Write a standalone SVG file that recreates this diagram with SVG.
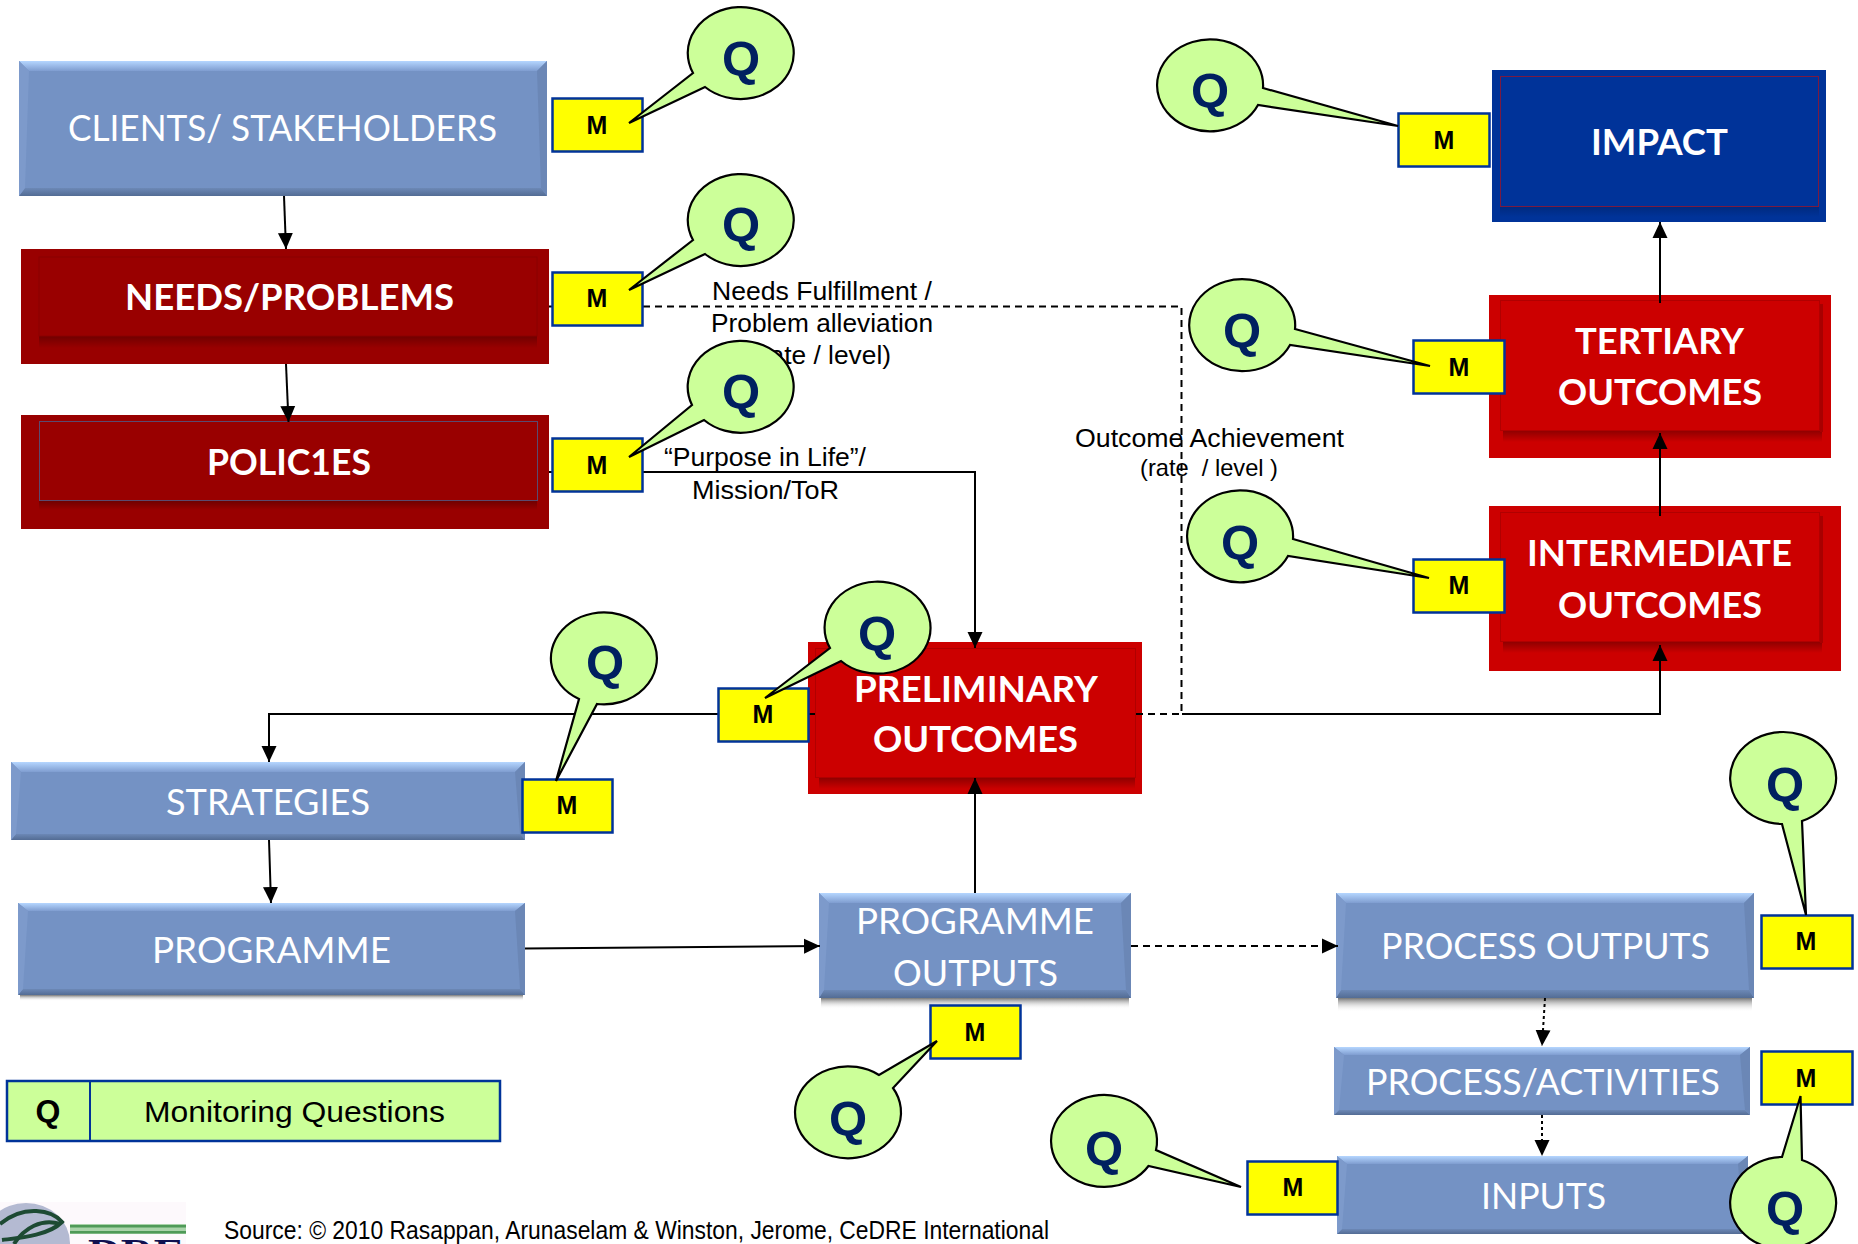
<svg xmlns="http://www.w3.org/2000/svg" width="1858" height="1244" viewBox="0 0 1858 1244">
<style>
text{font-family:"Liberation Sans",Arial,sans-serif}
.lb{font-family:Lato,"Open Sans",sans-serif;font-size:37px;fill:#fff}
.lbb{font-family:Lato,"Open Sans",sans-serif;font-size:37px;fill:#fff;font-weight:700}
.t{font-size:25px;fill:#000}
.blue{fill:#7492c4}
.top{fill:url(#bevTop)}
.bot{fill:url(#bevBot)}
.lt{fill:#7d9acb}
.rt{fill:#6b87b6}
.sh{fill:url(#shadow)}
.m rect{fill:#ff0;stroke:#003399;stroke-width:2.5}
.m text{font-size:25px;font-weight:700;text-anchor:middle;fill:#000}
.q path{fill:#ccff99;stroke:#000;stroke-width:2.2;stroke-linejoin:miter}
.q text{font-size:49px;font-weight:700;text-anchor:middle;fill:#002060}
.c{fill:none;stroke:#000;stroke-width:2}
.dash{stroke-dasharray:7 5}
.dot{stroke-dasharray:3 3}
.a{marker-end:url(#arr)}
</style>
<defs>
<marker id="arr" markerUnits="userSpaceOnUse" markerWidth="17" markerHeight="17" refX="16" refY="8.500" orient="auto"><path d="M0 1L16 8.500L0 16Z" fill="#000"/></marker>
<linearGradient id="bevTop" x1="0" y1="0" x2="0" y2="1"><stop offset="0" stop-color="#b5d6ff"/><stop offset="1" stop-color="#7f9dd0"/></linearGradient>
<linearGradient id="bevBot" x1="0" y1="0" x2="0" y2="1"><stop offset="0" stop-color="#6c88b6"/><stop offset="1" stop-color="#536c94"/></linearGradient>
<linearGradient id="shadow" x1="0" y1="0" x2="0" y2="1"><stop offset="0" stop-color="#777"/><stop offset="1" stop-color="#fff" stop-opacity="0"/></linearGradient>
<linearGradient id="sdR" x1="0" y1="0" x2="0" y2="1"><stop offset="0" stop-color="#900000"/><stop offset="1" stop-color="#cc0000"/></linearGradient>
<linearGradient id="sdD" x1="0" y1="0" x2="0" y2="1"><stop offset="0" stop-color="#700000"/><stop offset="1" stop-color="#990000"/></linearGradient>
<linearGradient id="sdB" x1="0" y1="0" x2="0" y2="1"><stop offset="0" stop-color="#002a7f"/><stop offset="1" stop-color="#003399"/></linearGradient>
</defs>
<rect width="1858" height="1244" fill="#fff"/>

<g id="node-clients">
<rect class="blue" x="19" y="61" width="528" height="135"/>
<polygon class="top" points="19,61 547,61 537,71 29,71"/>
<polygon class="bot" points="19,196 547,196 541,188 25,188"/>
<polygon class="lt" points="19,61 29,71 25,188 19,196"/>
<polygon class="rt" points="547,61 537,71 541,188 547,196"/>
<text class="lb" x="68" y="141" textLength="429" lengthAdjust="spacingAndGlyphs">CLIENTS/ STAKEHOLDERS</text>
</g>
<g id="node-needs">
<rect x="21" y="249" width="528" height="115" fill="#990000"/>
<rect x="39" y="336" width="498" height="12" fill="url(#sdD)"/>
<rect x="39" y="257" width="498" height="79" fill="#990000" stroke="#8a0000" stroke-width="1"/>
<text class="lbb" x="125" y="310" textLength="329" lengthAdjust="spacingAndGlyphs">NEEDS/PROBLEMS</text>
</g>
<g id="node-policies">
<rect x="21" y="415" width="528" height="114" fill="#990000"/>
<rect x="39" y="501" width="498" height="9" fill="url(#sdD)"/>
<rect x="39.500" y="421.500" width="498" height="79" fill="#990000" stroke="#5a4a70" stroke-width="1"/>
<text class="lbb" x="207" y="475" textLength="164" lengthAdjust="spacingAndGlyphs">POLIC1ES</text>
</g>
<g id="node-impact">
<rect x="1492" y="70" width="334" height="152" fill="#003399"/>
<rect x="1500" y="207" width="319" height="10" fill="url(#sdB)"/>
<rect x="1500.500" y="76.500" width="318" height="130" fill="#003399" stroke="#7a1a40" stroke-width="1"/>
<text class="lbb" x="1591" y="155" textLength="137" lengthAdjust="spacingAndGlyphs">IMPACT</text>
</g>
<g id="node-tertiary">
<rect x="1489" y="295" width="342" height="163" fill="#cc0000"/>
<rect x="1503" y="431" width="319" height="11" fill="url(#sdR)"/>
<rect x="1820" y="304" width="3" height="128" fill="#a80000"/>
<rect x="1500.500" y="300.500" width="319" height="130" fill="#cc0000" stroke="#b00000" stroke-width="1"/>
<text class="lbb" x="1575" y="354" textLength="169" lengthAdjust="spacingAndGlyphs">TERTIARY</text>
<text class="lbb" x="1558" y="405" textLength="204" lengthAdjust="spacingAndGlyphs">OUTCOMES</text>
</g>
<g id="node-intermediate">
<rect x="1489" y="506" width="352" height="165" fill="#cc0000"/>
<rect x="1503" y="642" width="319" height="11" fill="url(#sdR)"/>
<rect x="1820" y="516" width="3" height="127" fill="#a80000"/>
<rect x="1500.500" y="512.500" width="319" height="129" fill="#cc0000" stroke="#b00000" stroke-width="1"/>
<text class="lbb" x="1527" y="566" textLength="265" lengthAdjust="spacingAndGlyphs">INTERMEDIATE</text>
<text class="lbb" x="1558" y="618" textLength="204" lengthAdjust="spacingAndGlyphs">OUTCOMES</text>
</g>
<g id="node-preliminary">
<rect x="808" y="642" width="334" height="152" fill="#cc0000"/>
<rect x="819" y="778" width="316" height="11" fill="url(#sdR)"/>
<rect x="815.500" y="648.500" width="320" height="129" fill="#cc0000" stroke="#b00000" stroke-width="1"/>
<text class="lbb" x="854" y="702" textLength="244" lengthAdjust="spacingAndGlyphs">PRELIMINARY</text>
<text class="lbb" x="873" y="752" textLength="205" lengthAdjust="spacingAndGlyphs">OUTCOMES</text>
</g>
<g id="node-strategies">
<rect class="blue" x="11" y="762" width="514" height="78"/>
<polygon class="top" points="11,762 525,762 515,772 21,772"/>
<polygon class="bot" points="11,840 525,840 520,834 16,834"/>
<polygon class="lt" points="11,762 21,772 16,834 11,840"/>
<polygon class="rt" points="525,762 515,772 520,834 525,840"/>
<text class="lb" x="166" y="815" textLength="204" lengthAdjust="spacingAndGlyphs">STRATEGIES</text>
</g>
<g id="node-programme">
<rect class="sh" x="20" y="995" width="503" height="6"/>
<rect class="blue" x="18" y="903" width="507" height="92"/>
<polygon class="top" points="18,903 525,903 515,911 28,911"/>
<polygon class="bot" points="18,995 525,995 520,989 23,989"/>
<polygon class="lt" points="18,903 28,911 23,989 18,995"/>
<polygon class="rt" points="525,903 515,911 520,989 525,995"/>
<text class="lb" x="152" y="963" textLength="239" lengthAdjust="spacingAndGlyphs">PROGRAMME</text>
</g>
<g id="node-programme-outputs">
<rect class="sh" x="821" y="998" width="308" height="11"/>
<rect class="blue" x="819" y="893" width="312" height="105"/>
<polygon class="top" points="819,893 1131,893 1121,903 829,903"/>
<polygon class="bot" points="819,998 1131,998 1126,990 824,990"/>
<polygon class="lt" points="819,893 829,903 824,990 819,998"/>
<polygon class="rt" points="1131,893 1121,903 1126,990 1131,998"/>
<text class="lb" x="856" y="934" textLength="238" lengthAdjust="spacingAndGlyphs">PROGRAMME</text>
<text class="lb" x="893" y="986" textLength="165" lengthAdjust="spacingAndGlyphs">OUTPUTS</text>
</g>
<g id="node-process-outputs">
<rect class="sh" x="1338" y="998" width="414" height="14"/>
<rect class="blue" x="1336" y="893" width="418" height="105"/>
<polygon class="top" points="1336,893 1754,893 1744,903 1346,903"/>
<polygon class="bot" points="1336,998 1754,998 1749,990 1341,990"/>
<polygon class="lt" points="1336,893 1346,903 1341,990 1336,998"/>
<polygon class="rt" points="1754,893 1744,903 1749,990 1754,998"/>
<text class="lb" x="1381" y="959" textLength="329" lengthAdjust="spacingAndGlyphs">PROCESS OUTPUTS</text>
</g>
<g id="node-process-activities">
<rect class="blue" x="1334" y="1047" width="416" height="68"/>
<polygon class="top" points="1334,1047 1750,1047 1740,1055 1344,1055"/>
<polygon class="bot" points="1334,1115 1750,1115 1745,1110 1339,1110"/>
<polygon class="lt" points="1334,1047 1344,1055 1339,1110 1334,1115"/>
<polygon class="rt" points="1750,1047 1740,1055 1745,1110 1750,1115"/>
<text class="lb" x="1366" y="1095" textLength="354" lengthAdjust="spacingAndGlyphs">PROCESS/ACTIVITIES</text>
</g>
<g id="node-inputs">
<rect class="blue" x="1337" y="1156" width="411" height="78"/>
<polygon class="top" points="1337,1156 1748,1156 1738,1164 1347,1164"/>
<polygon class="bot" points="1337,1234 1748,1234 1743,1229 1342,1229"/>
<polygon class="lt" points="1337,1156 1347,1164 1342,1229 1337,1234"/>
<polygon class="rt" points="1748,1156 1738,1164 1743,1229 1748,1234"/>
<text class="lb" x="1481" y="1209" textLength="125" lengthAdjust="spacingAndGlyphs">INPUTS</text>
</g>

<g id="connectors">
<path class="c a" d="M284 196L286 249"/>
<path class="c a" d="M286 364L288.500 422"/>
<path class="c a" d="M269 840L271 903"/>
<path class="c a" d="M525 948.500L820 946"/>
<path class="c" d="M549 306.500H552"/>
<path class="c dash" d="M643 306.500H1181.500V714"/>
<path class="c" d="M549 472H552"/>
<path class="c a" d="M643 472H975V648"/>
<path class="c a" d="M815 714H269V762"/>
<path class="c dash" d="M1136 714H1182"/>
<path class="c a" d="M1182 714H1660V645"/>
<path class="c a" d="M975 893V778"/>
<path class="c a" d="M1660 516V433"/>
<path class="c a" d="M1660 303V222"/>
<path class="c dash a" d="M1131 946H1338"/>
<path class="c dot a" d="M1545 998L1542 1046"/>
<path class="c dot a" d="M1542 1115V1156"/>
</g>

<g id="labels">
<text class="t" x="712" y="300" textLength="220" lengthAdjust="spacingAndGlyphs">Needs Fulfillment /</text>
<text class="t" x="711" y="332" textLength="222" lengthAdjust="spacingAndGlyphs">Problem alleviation</text>
<text class="t" x="752" y="364" textLength="139" lengthAdjust="spacingAndGlyphs">(rate / level)</text>
<text class="t" x="664" y="466" textLength="202" lengthAdjust="spacingAndGlyphs">“Purpose in Life”/</text>
<text class="t" x="692" y="499" textLength="147" lengthAdjust="spacingAndGlyphs">Mission/ToR</text>
<text class="t" x="1075" y="447" textLength="269" lengthAdjust="spacingAndGlyphs">Outcome Achievement</text>
<text class="t" x="1140" y="476" style="font-size:24px;white-space:pre" textLength="138" lengthAdjust="spacingAndGlyphs">(rate  / level )</text>
</g>

<g id="m-clients" class="m"><rect x="552.500" y="98.500" width="90" height="53"/><text x="597" y="134">M</text></g>
<g id="q-clients" class="q"><path d="M693 73A53 46 0 1 1 705 87L629 123Z"/><text x="741" y="75">Q</text></g>
<g id="m-needs" class="m"><rect x="552.500" y="272.500" width="90" height="53"/><text x="597" y="307">M</text></g>
<g id="q-needs" class="q"><path d="M693 240A53 46 0 1 1 705 254L629 290Z"/><text x="741" y="241">Q</text></g>
<g id="m-policies" class="m"><rect x="552.500" y="438.500" width="90" height="53"/><text x="597" y="474">M</text></g>
<g id="q-policies" class="q"><path d="M692 405A53 46 0 1 1 704 420L629 457Z"/><text x="741" y="408">Q</text></g>
<g id="m-impact" class="m"><rect x="1398.500" y="113.500" width="91" height="53"/><text x="1444" y="149">M</text></g>
<g id="q-impact" class="q"><path d="M1258 105A53 46 0 1 1 1263 88L1398 126Z"/><text x="1210" y="107">Q</text></g>
<g id="m-tertiary" class="m"><rect x="1413.500" y="340.500" width="91" height="53"/><text x="1459" y="376">M</text></g>
<g id="q-tertiary" class="q"><path d="M1290 345A53 46 0 1 1 1295 329L1430 366Z"/><text x="1242" y="347">Q</text></g>
<g id="m-intermediate" class="m"><rect x="1413.500" y="559.500" width="91" height="53"/><text x="1459" y="594">M</text></g>
<g id="q-intermediate" class="q"><path d="M1288 556A53 46 0 1 1 1293 539L1429 578Z"/><text x="1240" y="559">Q</text></g>
<g id="m-preliminary" class="m"><rect x="718.500" y="688.500" width="90" height="53"/><text x="763" y="723">M</text></g>
<g id="q-preliminary" class="q"><path d="M830 648A53 46 0 1 1 841 661L765 698Z"/><text x="877" y="650">Q</text></g>
<g id="m-strategies" class="m"><rect x="522.500" y="779.500" width="90" height="53"/><text x="567" y="814">M</text></g>
<g id="q-strategies" class="q"><path d="M579 699A53 46 0 1 1 597 704L556 781Z"/><text x="605" y="679">Q</text></g>
<g id="m-programme-outputs" class="m"><rect x="930.500" y="1005.500" width="90" height="53"/><text x="975" y="1041">M</text></g>
<g id="q-programme-outputs" class="q"><path d="M893 1088A53 46 0 1 1 879 1075L937 1041Z"/><text x="848" y="1135">Q</text></g>
<g id="m-process-outputs" class="m"><rect x="1761.500" y="915.500" width="91" height="53"/><text x="1806" y="950">M</text></g>
<g id="q-process-outputs" class="q"><path d="M1782 824A53 46 0 1 1 1802 821L1806 915Z"/><text x="1785" y="801">Q</text></g>
<g id="m-process-activities" class="m"><rect x="1761.500" y="1051.500" width="91" height="53"/><text x="1806" y="1087">M</text></g>
<g id="q-process-activities" class="q"><path d="M1802 1160A53 46 0 1 1 1782 1157L1800.500 1096Z"/><text x="1785" y="1225">Q</text></g>
<g id="m-inputs" class="m"><rect x="1247.500" y="1161.500" width="90" height="53"/><text x="1293" y="1196">M</text></g>
<g id="q-inputs" class="q"><path d="M1148.500 1166A53 46 0 1 1 1156 1150L1241 1187Z"/><text x="1104" y="1165">Q</text></g>

<g id="legend">
<rect x="7" y="1081" width="493" height="60" fill="#ccff99" stroke="#003399" stroke-width="2.500"/>
<path d="M90 1081V1141" stroke="#003399" stroke-width="2"/>
<text x="48" y="1122" font-size="32" font-weight="700" text-anchor="middle" fill="#000">Q</text>
<text x="144" y="1122" font-size="30" fill="#000" textLength="301" lengthAdjust="spacingAndGlyphs">Monitoring Questions</text>
</g>

<g id="logo">
<rect x="0" y="1202" width="186" height="42" fill="#fdf9fc"/>
<ellipse cx="26" cy="1243" rx="44" ry="40" fill="#b4bad2"/>
<path d="M0 1224C24 1204 52 1210 62 1222C48 1236 18 1238 2 1240" fill="none" stroke="#1d4a33" stroke-width="4"/>
<path d="M14 1244C24 1228 42 1218 60 1224" fill="none" stroke="#1d4a33" stroke-width="4"/>
<rect x="70" y="1224" width="116" height="10" fill="#a9d3a9"/>
<rect x="70" y="1225" width="116" height="2.500" fill="#4f9a58"/>
<rect x="70" y="1231" width="116" height="2.500" fill="#4f9a58"/>
<text x="88" y="1265" font-size="38" font-weight="700" fill="#101050" style="font-family:'Liberation Serif',serif" textLength="96" lengthAdjust="spacingAndGlyphs">DRE</text>
</g>
<text id="source" x="224" y="1239" font-size="26" fill="#000" textLength="825" lengthAdjust="spacingAndGlyphs">Source: © 2010 Rasappan, Arunaselam &amp; Winston, Jerome, CeDRE International</text>
</svg>
